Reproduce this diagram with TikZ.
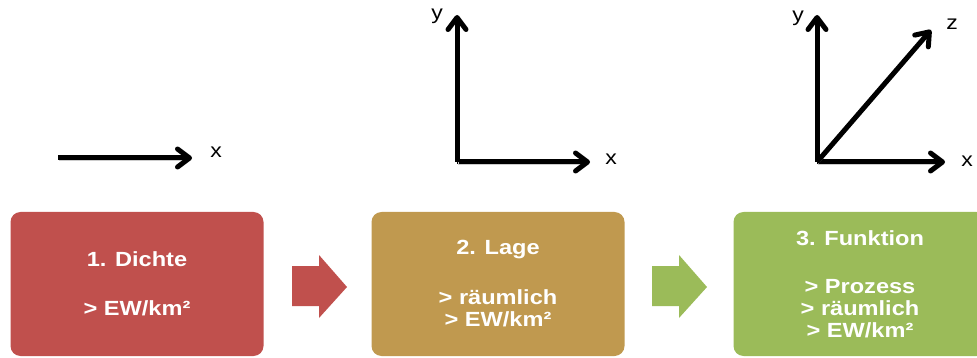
\documentclass[tikz,border=0pt]{standalone}
\usepackage{fontspec}
\setmainfont{Liberation Sans}
\newfontfamily\breitfont[FakeStretch=1.15]{Liberation Sans}
\usetikzlibrary{arrows.meta}
\definecolor{dichte}{HTML}{C0504D}
\definecolor{lage}{HTML}{C0994F}
\definecolor{funktion}{HTML}{9BBB59}
\tikzset{
  stufe/.style={rounded corners=10pt, minimum width=253pt, minimum height=144pt,
    text=white, align=center, inner sep=0pt,
    font=\breitfont\fontsize{20.5}{22}\selectfont\bfseries},
  achse/.style={line width=5pt, -{Straight Barb[length=12pt,width=18pt,round]},
    preaction={draw=black!20, transform canvas={shift={(1pt,-2pt)}}}},
  achsname/.style={font=\breitfont\fontsize{20}{20}\selectfont, inner sep=0pt, anchor=base}
}

\begin{document}
\begin{tikzpicture}[x=1pt,y=-1pt]
            \useasboundingbox (0,0) rectangle (977,358);
            % die drei Stufen
            \node[stufe, fill=dichte] (dichte) at (137,284) {1. Dichte\\[27pt]> EW/km²};
            \node[stufe, fill=lage] (lage) at (498,284) {2. Lage\\[28pt]> räumlich\\> EW/km²};
            \node[stufe, fill=funktion] (funktion) at (860,284) {3. Funktion\\[26pt]> Prozess\\> räumlich\\> EW/km²};
            \fill[dichte] (292,266) -- (319,266) -- (319,255) -- (347,287) -- (319,318) -- (319,306) -- (292,306) -- cycle;
            \fill[funktion] (652,266) -- (679,266) -- (679,255) -- (707,287) -- (679,318) -- (679,306) -- (652,306) -- cycle;
            % eine Achse
            \coordinate (o1) at (58,158);
            \coordinate (x1) at (192,158);
            \draw[achse] (o1) -- (x1);
            \node[achsname] (lx1) at (216,158) {x};
            % zwei Achsen
            \coordinate (o2) at (457,162);
            \coordinate (x2) at (590,162);
            \coordinate (y2) at (457,15);
            \draw[achse] (o2) -- (x2);
            \draw[achse] (o2) -- (y2);
            \node[achsname] (lx2) at (611,165) {x};
            \node[achsname] (ly2) at (437,20) {y};
            % drei Achsen
            \coordinate (o3) at (817,162);
            \coordinate (x3) at (945,162);
            \coordinate (y3) at (817,15);
            \coordinate (z3) at (931,30);
            \foreach \e in {x3,y3,z3}
                \draw[achse] (o3) -- (\e);
            \node[achsname] (lx3) at (967,167) {x};
            \node[achsname] (ly3) at (798,22) {y};
            \node[achsname] (lz3) at (952,30) {z};
        \end{tikzpicture}
\end{document}
